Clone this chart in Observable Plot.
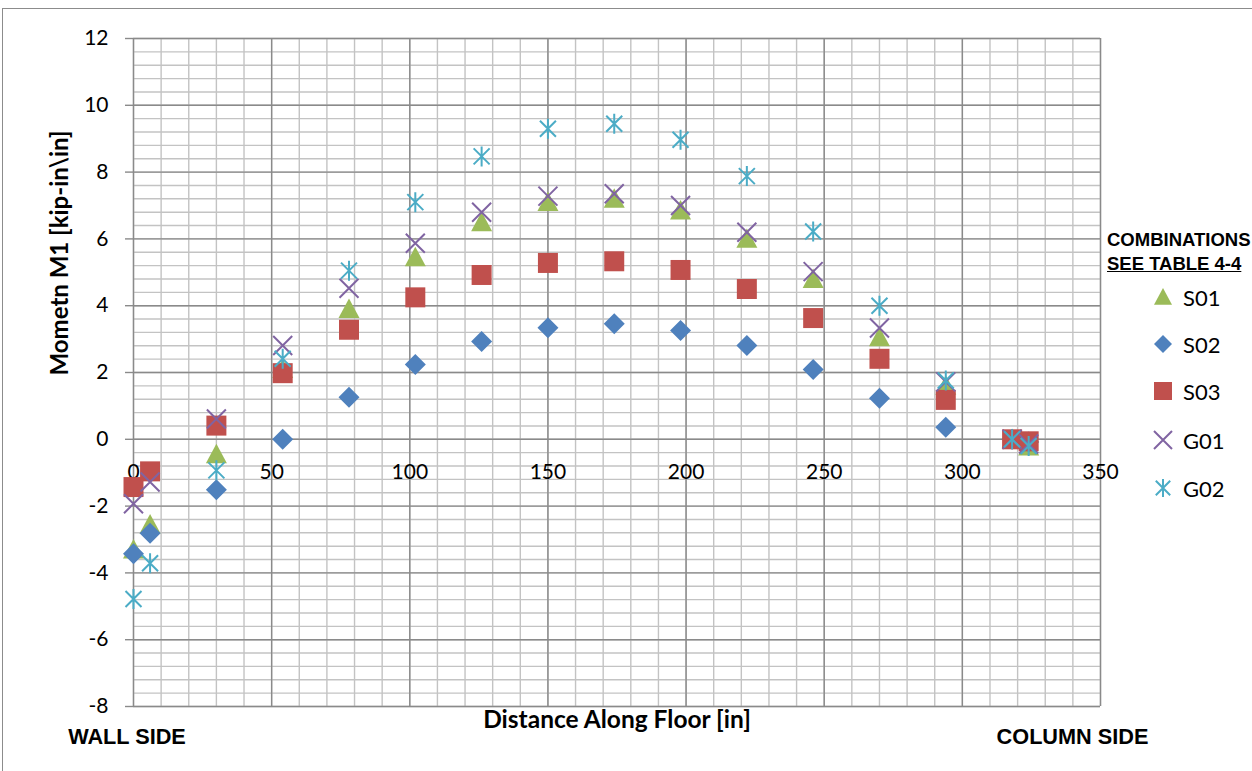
<!DOCTYPE html>
<html><head><meta charset="utf-8">
<script src="https://cdn.jsdelivr.net/npm/d3@7"></script>
<script src="https://cdn.jsdelivr.net/npm/@observablehq/plot@0.6"></script>
<style>
html,body{margin:0;padding:0;background:#fff;overflow:hidden;}
#wrap{position:relative;width:1252px;height:771px;overflow:hidden;}
#border{position:absolute;left:2px;top:8px;width:1300px;height:800px;border:1px solid #8c8c8c;box-sizing:border-box;}
#chart{position:absolute;left:0;top:0;}
#legend{position:absolute;left:0;top:0;width:1252px;height:771px;pointer-events:none;}
.lgtitle{position:absolute;left:1107px;font-family:"Liberation Sans",Arial,sans-serif;font-weight:bold;font-size:18.5px;color:#000;line-height:21px;white-space:nowrap;}
.lgrow{position:absolute;left:1151px;height:24px;display:flex;align-items:center;font-family:Lato,"Open Sans",sans-serif;font-size:22px;color:#000;}
.lgrow svg{margin-right:8px;}
</style></head>
<body><div id="wrap"><div id="border"></div><div id="chart"></div><div id="legend"></div></div>
<script>
// ---- data ----
const distance = [0, 6, 30, 54, 78, 102, 126, 150, 174, 198, 222, 246, 270, 294, 318, 324];
const S01 = [-3.3, -2.55, -0.45, 2.1, 3.9, 5.45, 6.5, 7.1, 7.2, 6.85, 6.0, 4.8, 3.05, 1.6, 0.0, -0.22];
const S02 = [-3.43, -2.81, -1.51, 0.0, 1.26, 2.24, 2.93, 3.34, 3.46, 3.26, 2.81, 2.09, 1.23, 0.36, 0.0, -0.08];
const S03 = [-1.43, -0.96, 0.41, 1.98, 3.28, 4.25, 4.92, 5.28, 5.33, 5.07, 4.5, 3.63, 2.41, 1.18, 0.0, -0.06];
const G01 = [-1.93, -1.28, 0.61, 2.81, 4.52, 5.87, 6.8, 7.28, 7.35, 7.0, 6.2, 5.02, 3.33, 1.72, 0.0, -0.14];
const G02 = [-4.78, -3.71, -0.93, 2.41, 5.05, 7.1, 8.47, 9.3, 9.45, 8.97, 7.88, 6.22, 4.0, 1.76, 0.0, -0.2];
const seriesNames = ["S01", "S02", "S03", "G01", "G02"];
const seriesValues = [S01, S02, S03, G01, G02];
const seriesColors = ["#9BBB59", "#4F81BD", "#C0504D", "#8064A2", "#4BACC6"];
const xTicks = [0, 50, 100, 150, 200, 250, 300, 350];
const yTicks = [-8, -6, -4, -2, 0, 2, 4, 6, 8, 10, 12];
const xMinor = d3.range(0, 36).map(i => i * 10);
const yMinor = d3.range(0, 51).map(i => -8 + i * 0.4);
const xTitle = "Distance Along Floor [in]";
const yTitle = "Mometn M1 [kip-in\\in]";
const legendTitle = "COMBINATIONS";
const legendSub = "SEE TABLE 4-4";

// ---- symbols ----
const rad = s => Math.sqrt(s / Math.PI);
const symTriangle = {draw(c, s) { const r = rad(s); c.moveTo(0, -r); c.lineTo(r, r * 0.85); c.lineTo(-r, r * 0.85); c.closePath(); }};
const symDiamond = {draw(c, s) { const r = rad(s); c.moveTo(0, -r); c.lineTo(r, 0); c.lineTo(0, r); c.lineTo(-r, 0); c.closePath(); }};
const symSquare = {draw(c, s) { const r = rad(s); c.rect(-r, -r, 2 * r, 2 * r); }};
const symX = {draw(c, s) { const r = rad(s); c.moveTo(-r, -r); c.lineTo(r, r); c.moveTo(r, -r); c.lineTo(-r, r); }};
const symStar = {draw(c, s) { const r = rad(s); c.moveTo(-r * 0.8, -r * 0.8); c.lineTo(r * 0.8, r * 0.8); c.moveTo(r * 0.8, -r * 0.8); c.lineTo(-r * 0.8, r * 0.8); c.moveTo(0, -r); c.lineTo(0, r); }};
const symbols = [symTriangle, symDiamond, symSquare, symX, symStar];
const filled = [true, true, true, false, false];
const sizes = [10.5, 10.5, 10, 9.5, 10];

const rows = [];
seriesNames.forEach((name, si) => distance.forEach((d, i) => rows.push({series: name, si, x: d, y: seriesValues[si][i]})));

const minorC = "#c3c3c3", majorC = "#8a8a8a";
const tickFont = "Lato, 'Open Sans', sans-serif";
const boldFont = "'Liberation Sans', Arial, sans-serif";

const marks = [
  Plot.ruleX(xMinor, {x: d => d, stroke: minorC, strokeWidth: 1.4}),
  Plot.ruleY(yMinor, {y: d => d, stroke: minorC, strokeWidth: 1.4}),
  Plot.ruleX(xTicks, {x: d => d, stroke: majorC, strokeWidth: 1.4}),
  Plot.ruleY(yTicks, {y: d => d, stroke: majorC, strokeWidth: 1.4}),
  Plot.axisY(yTicks, {tickSize: 8, tickPadding: 17, tickFormat: d => String(d), fontSize: 21, fontFamily: tickFont, stroke: majorC, strokeWidth: 1.4, fill: "#000", label: null}),
  Plot.text(xTicks, {x: d => d, y: 0, dy: 33, text: d => String(d), fontSize: 21, fontFamily: tickFont, fill: "#000"}),
];
seriesNames.forEach((name, si) => {
  const data = rows.filter(r => r.si === si);
  marks.push(Plot.dot(data, {
    x: "x", y: "y", r: sizes[si], symbol: symbols[si],
    fill: filled[si] ? seriesColors[si] : "none",
    stroke: filled[si] ? "none" : seriesColors[si],
    strokeWidth: 2
  }));
});
marks.push(
  Plot.text([yTitle], {frameAnchor: "left", rotate: -90, dx: -73, dy: 3, fontSize: 24, fontWeight: "bold", fontFamily: tickFont, fill: "#000"}),
  Plot.text([xTitle], {frameAnchor: "bottom", dy: 21, fontSize: 24.5, fontWeight: "bold", fontFamily: tickFont, fill: "#000"}),
  Plot.text(["WALL SIDE"], {frameAnchor: "bottom-left", dx: -6.5, dy: 37, textAnchor: "middle", fontSize: 21.7, fontWeight: "bold", fontFamily: boldFont, fill: "#000"}),
  Plot.text(["COLUMN SIDE"], {frameAnchor: "bottom-right", dx: -28, dy: 37, textAnchor: "middle", fontSize: 21.7, fontWeight: "bold", fontFamily: boldFont, fill: "#000"})
);

const chart = Plot.plot({
  width: 1252, height: 771,
  marginLeft: 133, marginRight: 152, marginTop: 38, marginBottom: 65,
  x: {domain: [0, 350], axis: null},
  y: {domain: [-8, 12], axis: null},
  style: {background: "transparent", overflow: "visible"},
  marks
});
document.getElementById("chart").appendChild(chart);

// ---- legend ----
const lg = document.getElementById("legend");
const t1 = document.createElement("div"); t1.className = "lgtitle"; t1.style.top = "229px"; t1.textContent = legendTitle; lg.appendChild(t1);
const t2 = document.createElement("div"); t2.className = "lgtitle"; t2.style.top = "253px"; t2.style.textDecoration = "underline"; t2.textContent = legendSub; lg.appendChild(t2);
const rowCenters = [297, 344, 391, 440, 488];
seriesNames.forEach((name, si) => {
  const row = document.createElement("div");
  row.className = "lgrow";
  row.style.top = (rowCenters[si] - 12) + "px";
  const p = d3.path();
  symbols[si].draw(p, Math.PI * 9 * 9);
  const svg = d3.create("svg").attr("width", 24).attr("height", 24);
  svg.append("path").attr("transform", "translate(12,12)").attr("d", p.toString())
    .attr("fill", filled[si] ? seriesColors[si] : "none")
    .attr("stroke", filled[si] ? "none" : seriesColors[si]).attr("stroke-width", 2);
  row.appendChild(svg.node());
  const sp = document.createElement("span"); sp.textContent = name; row.appendChild(sp);
  lg.appendChild(row);
});
</script>
</body></html>
